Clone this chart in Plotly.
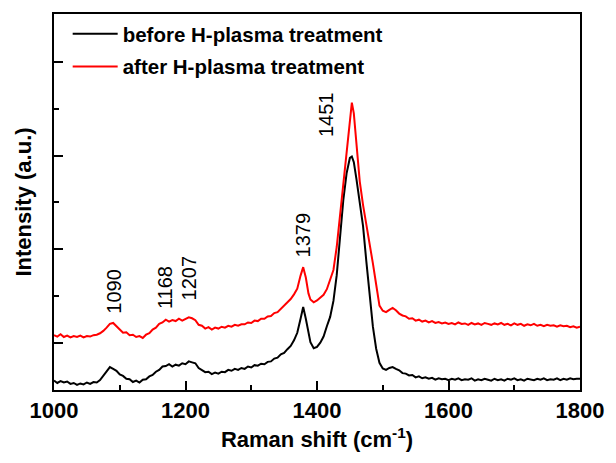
import plotly.graph_objects as go

# Raman shift sampling positions (cm^-1)
raman_shift = [
    1000, 1005, 1010, 1015, 1020, 1025, 1030, 1035, 1040, 1045,
    1050, 1055, 1060, 1065, 1070, 1075, 1080, 1085, 1090, 1095,
    1100, 1105, 1110, 1115, 1120, 1125, 1130, 1135, 1140, 1145,
    1150, 1155, 1160, 1165, 1170, 1175, 1180, 1185, 1190, 1195,
    1200, 1205, 1210, 1215, 1220, 1225, 1230, 1235, 1240, 1245,
    1250, 1255, 1260, 1265, 1270, 1275, 1280, 1285, 1290, 1295,
    1300, 1305, 1310, 1315, 1320, 1325, 1330, 1335, 1340, 1345,
    1350, 1355, 1360, 1365, 1370, 1375, 1379, 1383, 1387, 1390,
    1395, 1400, 1405, 1410, 1415, 1420, 1425, 1430, 1435, 1440,
    1445, 1450, 1453, 1456, 1460, 1465, 1470, 1475, 1480, 1485,
    1490, 1495, 1500, 1505, 1510, 1515, 1520, 1525, 1530, 1535,
    1540, 1545, 1550, 1555, 1560, 1565, 1570, 1575, 1580, 1585,
    1590, 1595, 1600, 1605, 1610, 1615, 1620, 1625, 1630, 1635,
    1640, 1645, 1650, 1655, 1660, 1665, 1670, 1675, 1680, 1685,
    1690, 1695, 1700, 1705, 1710, 1715, 1720, 1725, 1730, 1735,
    1740, 1745, 1750, 1755, 1760, 1765, 1770, 1775, 1780, 1785,
    1790, 1795, 1800,
]

intensity_before = [
    0.20, 0.15, 0.19, 0.16, 0.18, 0.13, 0.15, 0.11, 0.14, 0.12,
    0.16, 0.13, 0.17, 0.16, 0.21, 0.30, 0.40, 0.49, 0.45, 0.41,
    0.33, 0.30, 0.24, 0.23, 0.17, 0.20, 0.16, 0.22, 0.23, 0.29,
    0.32, 0.39, 0.43, 0.50, 0.51, 0.55, 0.50, 0.54, 0.52, 0.57,
    0.55, 0.61, 0.59, 0.57, 0.47, 0.43, 0.38, 0.39, 0.34, 0.37,
    0.35, 0.39, 0.38, 0.43, 0.41, 0.45, 0.43, 0.47, 0.45, 0.50,
    0.48, 0.53, 0.52, 0.56, 0.55, 0.60, 0.61, 0.67, 0.69, 0.76,
    0.79, 0.87, 0.94, 1.06, 1.22, 1.52, 1.77, 1.52, 1.18, 1.02,
    0.89, 0.92, 1.01, 1.14, 1.36, 1.56, 1.90, 2.45, 3.25, 4.05,
    4.62, 4.95, 4.98, 4.86, 4.50, 4.05, 3.50, 2.75, 2.05, 1.35,
    0.88, 0.58, 0.46, 0.43, 0.47, 0.49, 0.45, 0.42, 0.36, 0.35,
    0.31, 0.32, 0.27, 0.29, 0.25, 0.27, 0.24, 0.26, 0.22, 0.25,
    0.23, 0.24, 0.21, 0.24, 0.22, 0.25, 0.21, 0.23, 0.22, 0.25,
    0.20, 0.23, 0.21, 0.24, 0.22, 0.20, 0.24, 0.21, 0.23, 0.20,
    0.24, 0.22, 0.25, 0.21, 0.23, 0.20, 0.24, 0.22, 0.21, 0.24,
    0.22, 0.25, 0.21, 0.23, 0.22, 0.25, 0.21, 0.24, 0.22, 0.25,
    0.23, 0.24, 0.24,
]

intensity_after = [
    1.17, 1.14, 1.19, 1.13, 1.16, 1.12, 1.15, 1.13, 1.16, 1.12,
    1.15, 1.14, 1.17, 1.18, 1.21, 1.26, 1.33, 1.41, 1.43, 1.35,
    1.29, 1.22, 1.23, 1.17, 1.18, 1.13, 1.15, 1.11, 1.18, 1.21,
    1.29, 1.33, 1.41, 1.44, 1.50, 1.46, 1.49, 1.47, 1.52, 1.48,
    1.52, 1.55, 1.53, 1.49, 1.39, 1.37, 1.31, 1.34, 1.29, 1.33,
    1.31, 1.35, 1.33, 1.37, 1.35, 1.39, 1.37, 1.40, 1.40, 1.44,
    1.43, 1.48, 1.47, 1.52, 1.52, 1.57, 1.58, 1.64, 1.66, 1.73,
    1.79, 1.88, 1.94, 2.04, 2.16, 2.44, 2.62, 2.40, 2.06, 1.93,
    1.87, 1.91, 1.97, 2.03, 2.15, 2.34, 2.56, 3.05, 3.72, 4.38,
    5.15, 5.85, 6.13, 5.90, 5.25, 4.45, 3.95, 3.55, 3.15, 2.70,
    2.25, 1.80, 1.69, 1.66, 1.71, 1.75, 1.70, 1.63, 1.59, 1.57,
    1.52, 1.53, 1.48, 1.50, 1.46, 1.48, 1.44, 1.47, 1.43, 1.45,
    1.42, 1.44, 1.41, 1.43, 1.40, 1.44, 1.41, 1.42, 1.39, 1.43,
    1.40, 1.42, 1.39, 1.43, 1.41, 1.39, 1.42, 1.40, 1.43, 1.39,
    1.41, 1.38, 1.42, 1.39, 1.41, 1.37, 1.40, 1.38, 1.41, 1.37,
    1.39, 1.36, 1.39, 1.37, 1.38, 1.35, 1.38, 1.36, 1.37, 1.34,
    1.36, 1.33, 1.35,
]

series_names = ["before H-plasma treatment", "after H-plasma treatment"]

# Peak labels: text, x position (cm^-1), y position (a.u.)
peak_labels = ["1090", "1168", "1207", "1379", "1451"]
peak_label_x = [1090, 1170, 1206, 1379, 1414]
peak_label_y = [2.10, 2.19, 2.39, 3.30, 5.87]

x_ticks = [1000, 1200, 1400, 1600, 1800]

FONT = "Liberation Sans, Arial, sans-serif"

fig = go.Figure()
fig.add_trace(go.Scatter(
    x=raman_shift, y=intensity_before, mode="lines", name=series_names[0],
    line=dict(color="#000000", width=2), legendgroup="a",
))
fig.add_trace(go.Scatter(
    x=raman_shift, y=intensity_after, mode="lines", name=series_names[1],
    line=dict(color="#ff0000", width=2), legendgroup="b",
))

for t, px, py in zip(peak_labels, peak_label_x, peak_label_y):
    fig.add_annotation(
        x=px, y=py, xref="x", yref="y", text=t, textangle=-90,
        showarrow=False, font=dict(family=FONT, size=20, color="black"),
    )

fig.update_layout(
    width=616, height=463,
    margin=dict(l=54, r=32, t=13, b=73),
    paper_bgcolor="white", plot_bgcolor="white",
    showlegend=True,
    legend=dict(
        x=0.026, y=1.0, xanchor="left", yanchor="top",
        bgcolor="rgba(0,0,0,0)", borderwidth=0,
        font=dict(family=FONT, size=20.5, color="black", weight="bold"),
        traceorder="grouped", tracegroupgap=3, itemwidth=45,
    ),
    xaxis=dict(
        range=[1000, 1800], tickvals=x_ticks,
        ticks="inside", ticklen=9, tickwidth=2, tickcolor="black",
        minor=dict(dtick=100, tick0=1000, ticks="inside", ticklen=5, tickwidth=2, tickcolor="black"),
        showline=True, linecolor="black", linewidth=2, mirror=True,
        showgrid=False, zeroline=False,
        tickfont=dict(family=FONT, size=22, color="black", weight="bold"),
        title=dict(text="Raman shift (cm<sup>-1</sup>)", standoff=9,
                   font=dict(family=FONT, size=22, color="black", weight="bold")),
    ),
    yaxis=dict(
        range=[0, 8.02], tickvals=[1, 3, 5, 7], showticklabels=False,
        ticks="inside", ticklen=9, tickwidth=2, tickcolor="black",
        minor=dict(dtick=1, tick0=0, ticks="inside", ticklen=5, tickwidth=2, tickcolor="black"),
        showline=True, linecolor="black", linewidth=2, mirror=True,
        showgrid=False, zeroline=False,
        title=dict(text="Intensity (a.u.)", standoff=14,
                   font=dict(family=FONT, size=22, color="black", weight="bold")),
    ),
)

fig.write_html("out.html", config={"displayModeBar": False},
               post_script="document.body.style.margin='0';")
